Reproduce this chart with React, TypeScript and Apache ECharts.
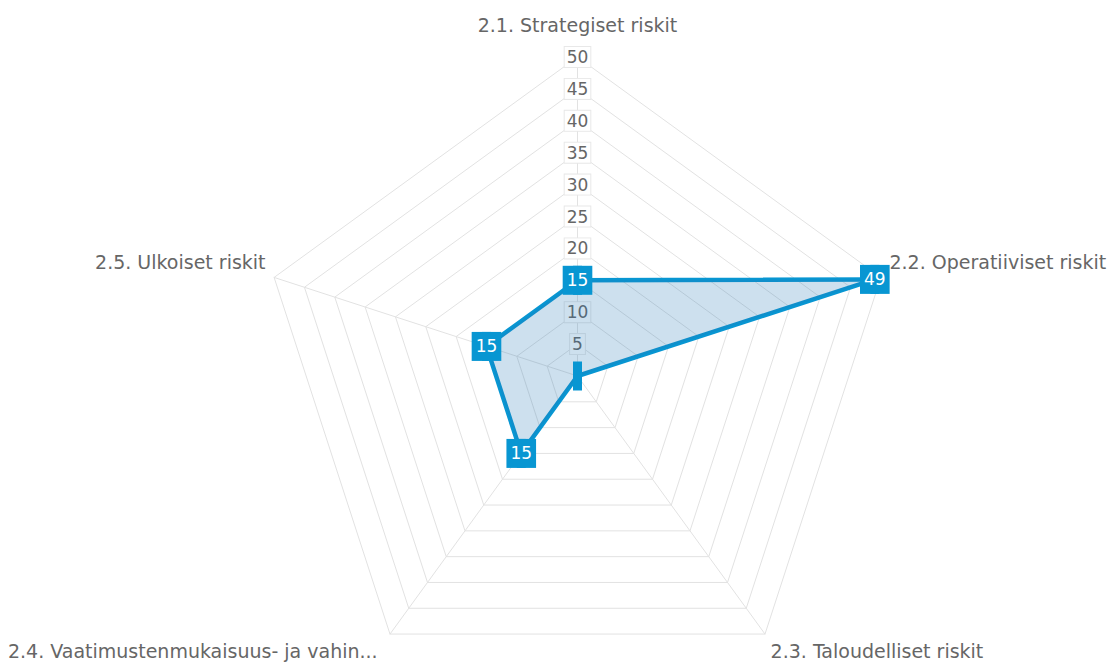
import React, { useEffect, useRef } from 'react';
import * as echarts from 'echarts';

// Data (in the chart's clockwise order, starting at the top)
const categories = [
  '2.1. Strategiset riskit',
  '2.2. Operatiiviset riskit',
  '2.3. Taloudelliset riskit',
  '2.4. Vaatimustenmukaisuus- ja vahin...',
  '2.5. Ulkoiset riskit',
];
const values = [15, 49, 0, 15, 15];
const axisMin = 0;
const axisMax = 50;
const splitCount = 10;

const FONT = '"DejaVu Sans", sans-serif';
const BLUE = '#0896d2';
const GRID = '#e2e2e2';
const TEXT = '#666666';

// name placement per category (same order as categories)
const nameLayouts: any[] = [
  { gap: 23, align: 'center', verticalAlign: 'bottom', padding: 0 },
  { gap: 9, align: 'left', verticalAlign: 'bottom', padding: [0, 0, 3, 0] },
  { gap: 9.5, align: 'left', verticalAlign: 'top', padding: 0 },
  { gap: 21, align: 'right', verticalAlign: 'middle', padding: 0 },
  { gap: 9, align: 'right', verticalAlign: 'bottom', padding: [0, 0, 3, 0] },
];

export default function App() {
  const ref = useRef<HTMLDivElement>(null);

  useEffect(() => {
    if (!ref.current) return;
    const chart = echarts.init(ref.current, undefined, { renderer: 'svg' });

    // ECharts radar runs counter-clockwise; reorder so the picture runs clockwise
    const n = categories.length;
    const order = [0, ...Array.from({ length: n - 1 }, (_, i) => n - 1 - i)];

    const indicator = order.map((ci) => {
      const lay = nameLayouts[ci];
      const ind: any = {
        name: categories[ci],
        min: axisMin,
        max: axisMax,
        nameGap: lay.gap,
        nameTextStyle: {
          align: lay.align,
          verticalAlign: lay.verticalAlign,
          padding: lay.padding,
        },
      };
      if (ci === 0) ind.axisLabel = { show: true };
      return ind;
    });

    const orderedValues = order.map((ci) => values[ci]);

    chart.setOption({
      animation: false,
      radar: {
        center: [577.5, 376],
        radius: 319,
        startAngle: 90,
        shape: 'polygon',
        splitNumber: splitCount,
        indicator,
        axisName: {
          color: TEXT,
          fontSize: 19,
          fontFamily: FONT,
        },
        splitLine: { lineStyle: { color: GRID, width: 1 } },
        splitArea: { show: false },
        axisLine: { lineStyle: { color: GRID, width: 1 } },
        axisTick: { show: false },
        axisLabel: {
          show: false,
          showMinLabel: false,
          margin: 0,
          align: 'center',
          verticalAlign: 'middle',
          color: TEXT,
          fontSize: 17,
          fontFamily: FONT,
          lineHeight: 18,
          backgroundColor: '#ffffff',
          borderColor: '#e8e8e8',
          borderWidth: 1,
          padding: [1, 2],
        },
      },
      series: [
        {
          type: 'radar',
          symbol: 'rect',
          symbolSize: [9, 29],
          z: 5,
          lineStyle: { color: BLUE, width: 4.5 },
          itemStyle: { color: BLUE },
          areaStyle: { color: 'rgba(40,120,180,0.23)', opacity: 1 },
          label: {
            show: true,
            position: 'inside',
            formatter: (p: any) => (p.value ? String(p.value) : ''),
            color: '#ffffff',
            fontSize: 17,
            fontFamily: FONT,
            lineHeight: 19,
            backgroundColor: BLUE,
            padding: [5, 4],
          },
          data: [{ value: orderedValues, name: 'Riskit' }],
        },
      ],
    });

    return () => chart.dispose();
  }, []);

  return (
    <div
      ref={ref}
      style={{ position: 'absolute', left: 0, top: 0, width: 1112, height: 662, background: '#fff' }}
    />
  );
}
